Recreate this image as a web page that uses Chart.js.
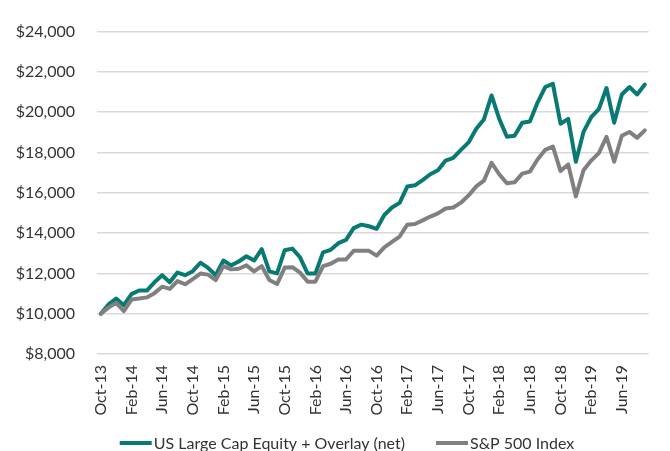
<!DOCTYPE html>
<html>
<head>
<meta charset="utf-8">
<script src="https://cdn.jsdelivr.net/npm/chart.js@4.4.1/dist/chart.umd.min.js"></script>
<style>
    html, body { margin: 0; padding: 0; background: #fff; overflow: hidden; }
    #wrap { width: 670px; height: 451px; overflow: hidden; }
    canvas { display: block; }
</style>
</head>
<body>
<div id="wrap"><canvas id="chartGrowth" width="675" height="451"></canvas></div>
<script>
// meses Oct-13 .. Sep-19
const MESES = [
    'Oct-13', 'Nov-13', 'Dec-13',
    'Jan-14', 'Feb-14', 'Mar-14', 'Apr-14', 'May-14', 'Jun-14', 'Jul-14', 'Aug-14', 'Sep-14', 'Oct-14', 'Nov-14', 'Dec-14',
    'Jan-15', 'Feb-15', 'Mar-15', 'Apr-15', 'May-15', 'Jun-15', 'Jul-15', 'Aug-15', 'Sep-15', 'Oct-15', 'Nov-15', 'Dec-15',
    'Jan-16', 'Feb-16', 'Mar-16', 'Apr-16', 'May-16', 'Jun-16', 'Jul-16', 'Aug-16', 'Sep-16', 'Oct-16', 'Nov-16', 'Dec-16',
    'Jan-17', 'Feb-17', 'Mar-17', 'Apr-17', 'May-17', 'Jun-17', 'Jul-17', 'Aug-17', 'Sep-17', 'Oct-17', 'Nov-17', 'Dec-17',
    'Jan-18', 'Feb-18', 'Mar-18', 'Apr-18', 'May-18', 'Jun-18', 'Jul-18', 'Aug-18', 'Sep-18', 'Oct-18', 'Nov-18', 'Dec-18',
    'Jan-19', 'Feb-19', 'Mar-19', 'Apr-19', 'May-19', 'Jun-19', 'Jul-19', 'Aug-19', 'Sep-19'
];

const OVERLAY = [
    10000, 10460, 10750,
    10420, 10970, 11150, 11150, 11560, 11910, 11560, 12040, 11910, 12110, 12530, 12270,
    11910, 12640, 12400, 12590, 12850, 12640, 13200, 12100, 12000, 13150, 13230, 12800,
    11990, 11990, 13040, 13170, 13500, 13660, 14250, 14420, 14340, 14210, 14900, 15270,
    15500, 16310, 16370, 16630, 16920, 17120, 17600, 17730, 18130, 18500, 19180, 19640,
    20830, 19670, 18780, 18830, 19480, 19540, 20480, 21250, 21410, 19430, 19670, 17540,
    19020, 19750, 20150, 21200, 19480, 20880, 21250, 20880, 21370
];

const SP500 = [
    10000, 10300, 10540,
    10130, 10700, 10750, 10810, 11020, 11340, 11230, 11620, 11460, 11720, 11990, 11940,
    11670, 12360, 12200, 12230, 12400, 12100, 12360, 11670, 11470, 12290, 12310, 12040,
    11590, 11590, 12360, 12480, 12690, 12690, 13120, 13120, 13120, 12880, 13290, 13560,
    13830, 14420, 14450, 14630, 14820, 14980, 15220, 15270, 15510, 15870, 16320, 16600,
    17490, 16920, 16470, 16520, 16950, 17050, 17650, 18130, 18300, 17080, 17410, 15820,
    17120, 17600, 17970, 18780, 17540, 18830, 19020, 18730, 19100
];

const Y_MIN = 8000;
const Y_MAX = 24000;
const Y_STEP = 2000;
const CADA_N = 4; // una etiqueta cada 4 meses

const FUENTE = 'Lato, "DejaVu Sans", sans-serif';

// leyenda dibujada a mano debajo del eje
const leyenda = {
    id: 'leyendaAbajo',
    afterDraw(chart) {
        const ctx = chart.ctx;
        const sets = chart.data.datasets;
        ctx.save();
        ctx.font = '16px ' + FUENTE;
        ctx.textBaseline = 'middle';
        const linea = 32, gap = 2, sep = 31;
        let total = 0;
        sets.forEach((ds, i) => {
            total += linea + gap + ctx.measureText(ds.label).width + (i < sets.length - 1 ? sep : 0);
        });
        let x = 347 - total / 2;
        const y = 443;
        sets.forEach(ds => {
            ctx.strokeStyle = ds.borderColor;
            ctx.lineWidth = 4;
            ctx.beginPath();
            ctx.moveTo(x, y);
            ctx.lineTo(x + linea, y);
            ctx.stroke();
            x += linea + gap;
            ctx.fillStyle = '#333';
            ctx.fillText(ds.label, x, y + 1);
            x += ctx.measureText(ds.label).width + sep;
        });
        ctx.restore();
    }
};

new Chart(document.getElementById('chartGrowth'), {
    type: 'line',
    data: {
        labels: MESES,
        datasets: [
            {
                label: 'US Large Cap Equity + Overlay (net)',
                data: OVERLAY,
                borderColor: '#087a73',
                backgroundColor: '#087a73',
                borderWidth: 4,
                order: 1
            },
            {
                label: 'S&P 500 Index',
                data: SP500,
                borderColor: '#808080',
                backgroundColor: '#808080',
                borderWidth: 4,
                order: 0
            }
        ]
    },
    options: {
        responsive: false,
        animation: false,
        devicePixelRatio: 1,
        layout: { padding: { top: 24, left: 0, right: 0, bottom: 0 } },
        elements: {
            point: { radius: 0 },
            line: { tension: 0, borderJoinStyle: 'round', borderCapStyle: 'round' }
        },
        plugins: {
            legend: { display: false },
            tooltip: { enabled: false }
        },
        scales: {
            x: {
                offset: true,
                afterFit: s => { s.height = 97; },
                grid: { display: false, drawTicks: false },
                border: { display: false },
                ticks: {
                    autoSkip: false,
                    maxRotation: 90,
                    minRotation: 90,
                    padding: 11,
                    color: '#333',
                    font: { family: FUENTE, size: 16 },
                    callback: (v, i) => (i % CADA_N === 0 ? MESES[i] : '')
                }
            },
            y: {
                min: Y_MIN,
                max: Y_MAX,
                afterFit: s => { s.width = 97; },
                grid: { color: '#d9d9d9', lineWidth: 1.5, drawTicks: false },
                border: { display: false },
                ticks: {
                    stepSize: Y_STEP,
                    padding: 22,
                    color: '#333',
                    font: { family: FUENTE, size: 16 },
                    callback: v => '$' + v.toLocaleString('en-US')
                }
            }
        }
    },
    plugins: [leyenda]
});
</script>
</body>
</html>
